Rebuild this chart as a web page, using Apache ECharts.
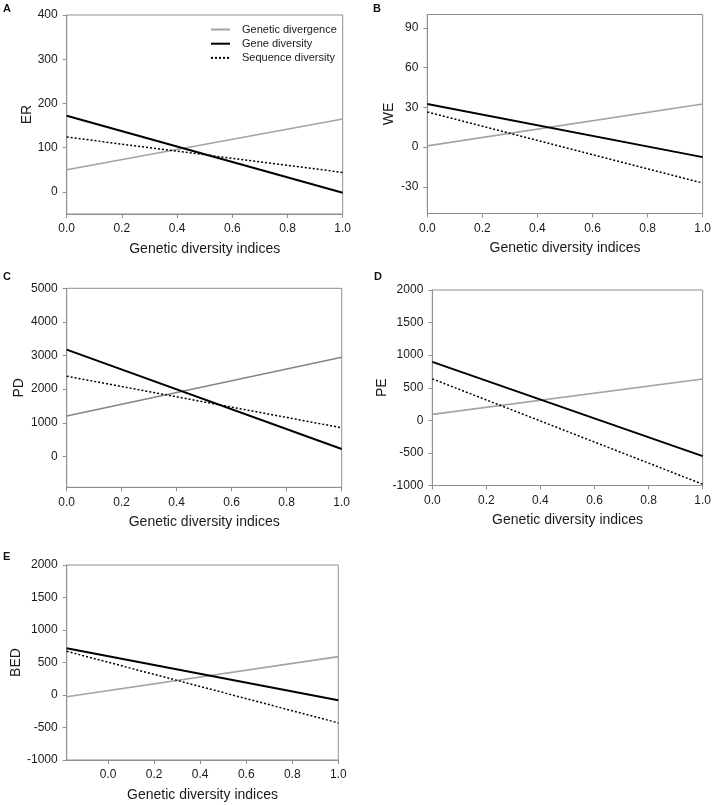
<!DOCTYPE html>
<html>
<head>
<meta charset="utf-8">
<script src="https://cdn.jsdelivr.net/npm/echarts@6/dist/echarts.min.js"></script>
<style>
html,body{margin:0;padding:0;background:#fff;}
#chart{width:714px;height:805px;}
</style>
</head>
<body>
<div id="chart"></div>
<script>
// ---- data ----
const panelLabels = ['A', 'B', 'C', 'D', 'E'];
const yNames = ['ER', 'WE', 'PD', 'PE', 'BED'];
const xName = 'Genetic diversity indices';
const seriesNames = ['Genetic divergence', 'Gene diversity', 'Sequence diversity'];
const xStart = [0, 0, 0, 0, -0.18];
const xEnd = [1, 1, 1, 1, 1];
const divergenceStart = [50, 1, 1200, 92, -26];
const divergenceEnd = [165, 32.5, 2950, 635, 591];
const geneStart = [172, 32.5, 3175, 897, 718];
const geneEnd = [-2, -7.5, 218, -549, -81];
const sequenceStart = [124, 26.5, 2385, 636, 672];
const sequenceEnd = [44, -27, 851, -980, -429];
const yMin = [-50, -50, -920, -1000, -1000];
const yMax = [400, 100, 5000, 2000, 2000];
const yTicks = [
  [0, 100, 200, 300, 400],
  [-30, 0, 30, 60, 90],
  [0, 1000, 2000, 3000, 4000, 5000],
  [-1000, -500, 0, 500, 1000, 1500, 2000],
  [-1000, -500, 0, 500, 1000, 1500, 2000]
];
const xTicks = [0, 0.2, 0.4, 0.6, 0.8, 1.0];

// ---- layout / style ----
const grids = [
  {left: 66.7, top: 15, width: 276, height: 199},
  {left: 427.3, top: 14.5, width: 277.7, height: 199},
  {left: 66.7, top: 288.3, width: 275, height: 199},
  {left: 432.3, top: 290, width: 272, height: 195.5},
  {left: 66.7, top: 565, width: 271.6, height: 195}
];
const yNameGaps = [33, 31, 40.5, 40.7, 42.3];
const labelPos = [[3, 3], [373, 3], [3, 271], [374, 271], [3, 551]];
const divColors = ['#a3a3a3', '#a3a3a3', '#858585', '#a3a3a3', '#a3a3a3'];
const frame = '#8f8f8f';
const font = 'Liberation Sans, Arial, sans-serif';

const chart = echarts.init(document.getElementById('chart'), null, {renderer: 'canvas'});

const xAxes = [], yAxes = [], series = [], titles = [];
for (let i = 0; i < 5; i++) {
  xAxes.push({
    type: 'value', gridIndex: i, min: xStart[i], max: xEnd[i],
    name: xName, nameLocation: 'middle', nameGap: 28,
    nameTextStyle: {fontFamily: font, fontSize: 14, color: '#1a1a1a'},
    axisLine: {show: true, onZero: false, lineStyle: {color: frame, width: 1}},
    axisTick: {show: true, length: 4, lineStyle: {color: frame}, customValues: xTicks},
    axisLabel: {customValues: xTicks, margin: 9, fontFamily: font, fontSize: 12, color: '#1a1a1a',
      formatter: v => Number(v).toFixed(1)},
    splitLine: {show: false}
  });
  yAxes.push({
    type: 'value', gridIndex: i, min: yMin[i], max: yMax[i],
    name: yNames[i], nameLocation: 'middle', nameRotate: 90, nameGap: yNameGaps[i],
    nameTextStyle: {fontFamily: font, fontSize: 14, color: '#1a1a1a'},
    axisLine: {show: true, onZero: false, lineStyle: {color: frame, width: 1}},
    axisTick: {show: true, length: 4, lineStyle: {color: frame}, customValues: yTicks[i]},
    axisLabel: {customValues: yTicks[i], margin: 9, fontFamily: font, fontSize: 12, color: '#1a1a1a',
      formatter: v => String(v)},
    splitLine: {show: false}
  });
  series.push({
    name: seriesNames[0], type: 'line', xAxisIndex: i, yAxisIndex: i, symbol: 'none', silent: true,
    lineStyle: {color: divColors[i], width: 1.6},
    itemStyle: {color: divColors[i]},
    data: [[xStart[i], divergenceStart[i]], [xEnd[i], divergenceEnd[i]]]
  });
  series.push({
    name: seriesNames[1], type: 'line', xAxisIndex: i, yAxisIndex: i, symbol: 'none', silent: true,
    lineStyle: {color: '#000', width: 2},
    itemStyle: {color: '#000'},
    data: [[xStart[i], geneStart[i]], [xEnd[i], geneEnd[i]]]
  });
  series.push({
    name: seriesNames[2], type: 'line', xAxisIndex: i, yAxisIndex: i, symbol: 'none', silent: true,
    lineStyle: {color: '#000', width: 1.5, type: [2, 2]},
    itemStyle: {color: '#000'},
    data: [[xStart[i], sequenceStart[i]], [xEnd[i], sequenceEnd[i]]]
  });
  titles.push({
    text: panelLabels[i], left: labelPos[i][0], top: labelPos[i][1], padding: 0,
    textStyle: {fontFamily: font, fontSize: 11, fontWeight: 'bold', color: '#111'}
  });
}

chart.setOption({
  animation: false,
  backgroundColor: '#fff',
  title: titles,
  grid: grids.map(g => Object.assign({show: true, borderColor: frame, borderWidth: 1, backgroundColor: 'transparent'}, g)),
  xAxis: xAxes,
  yAxis: yAxes,
  legend: {
    data: seriesNames,
    orient: 'vertical',
    left: 205, top: 18.5,
    itemWidth: 19, itemHeight: 12, itemGap: 2.2,
    selectedMode: false,
    itemStyle: {opacity: 0, borderWidth: 0},
    textStyle: {fontFamily: font, fontSize: 11, color: '#1a1a1a', padding: [0, 0, 0, 7], lineHeight: 12}
  },
  series: series
});
</script>
</body>
</html>
